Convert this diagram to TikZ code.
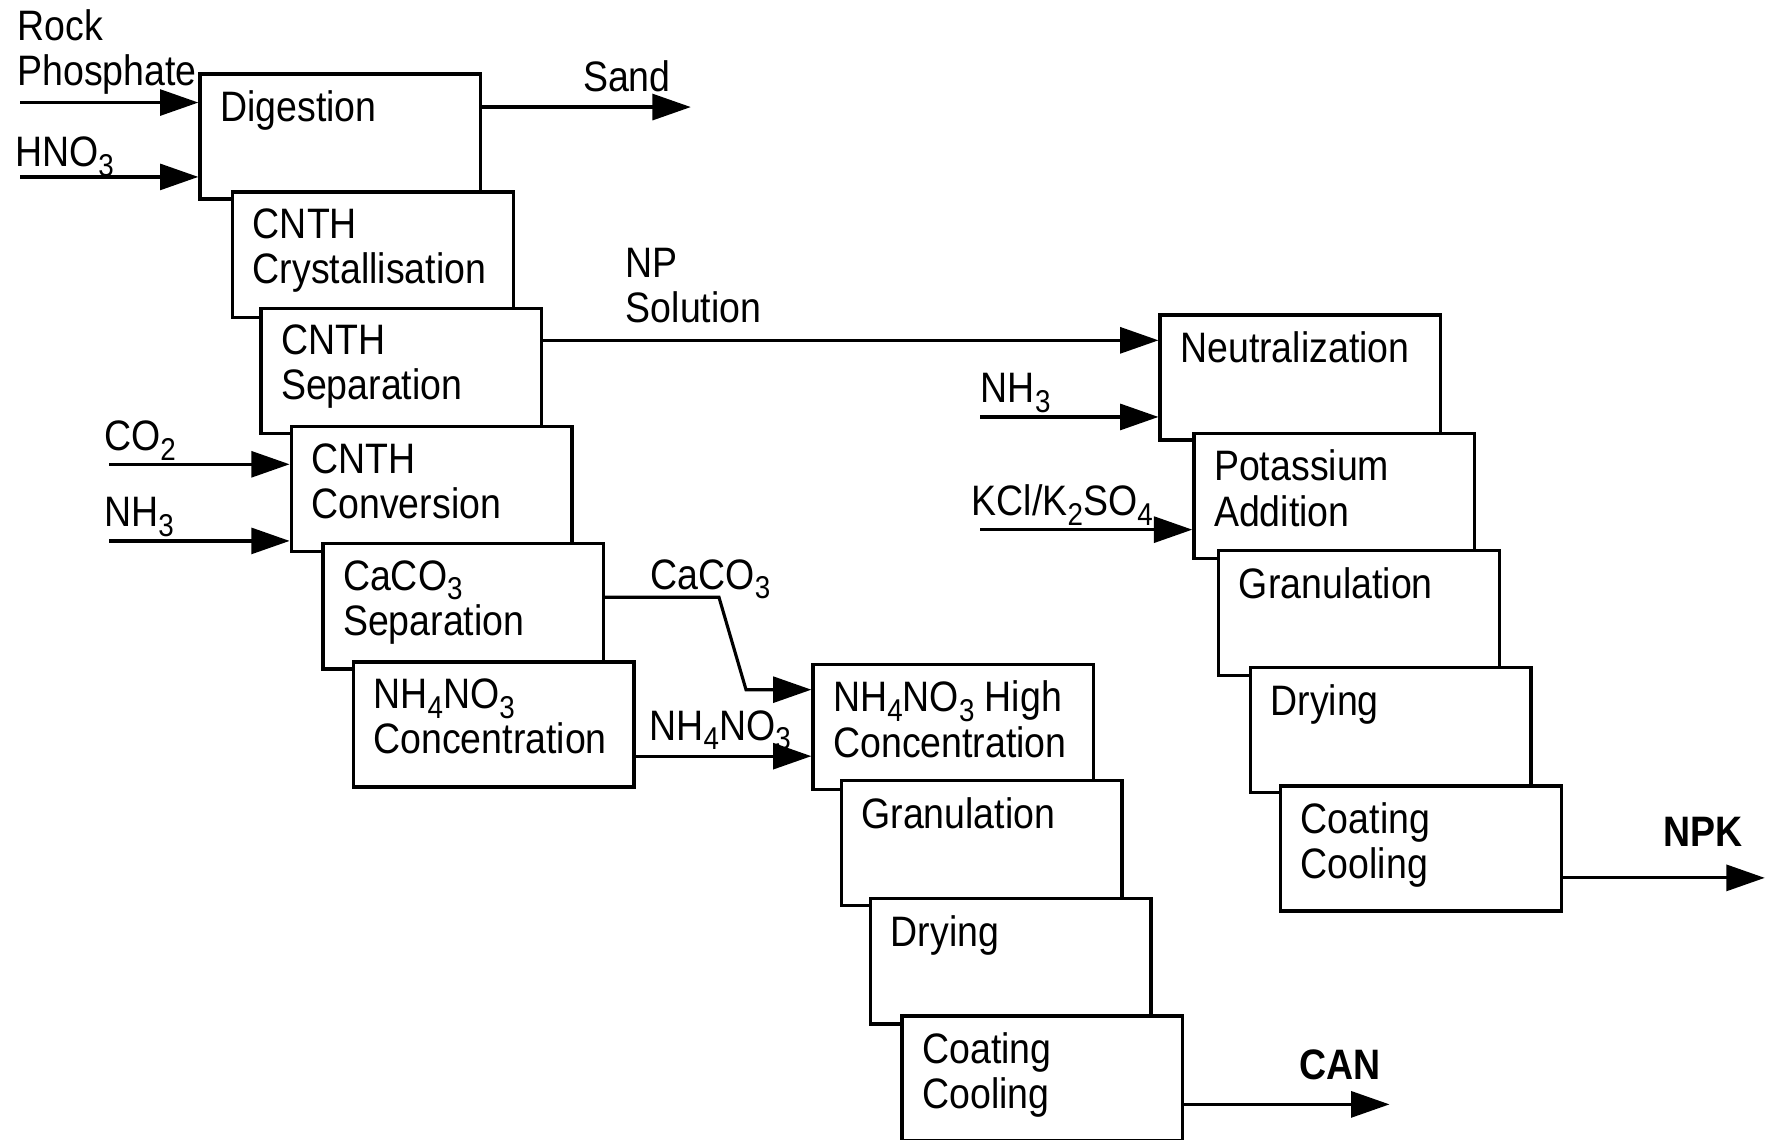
\documentclass[tikz,border=0pt]{standalone}
\usepackage{fontspec}
\setmainfont{Liberation Sans}[FakeStretch=0.88]
\usetikzlibrary{arrows.meta}
\newcommand\chsub[1]{\smash{\raisebox{-4.2pt}{\fontsize{14pt}{14pt}\selectfont #1}}}
\begin{document}
\begin{tikzpicture}[x=0.5pt,y=-0.5pt,
  font=\fontsize{18.9pt}{20pt}\selectfont,
  stage/.style={draw, fill=white, line width=1.5pt, minimum width=124.5pt, minimum height=55.5pt, anchor=north west, inner sep=0pt},
  stagetxt/.style={anchor=north west, inner sep=0pt, align=left, xshift=9.5pt, yshift=-8pt},
  flow/.style={line width=1.4pt, -{Triangle[length=17pt,width=11.5pt]}},
  tag/.style={anchor=north west, inner sep=0pt, align=left}]
\useasboundingbox (0,0) rectangle (1568,1011);
% left chain
\node[stage, label={[stagetxt]north west:Digestion}] (dig) at (176,64) {};
\node[stage, label={[stagetxt]north west:{CNTH\\Crystallisation}}] (cry) at (205,169) {};
\node[stage, label={[stagetxt]north west:{CNTH\\Separation}}] (sep) at (230,272) {};
\node[stage, label={[stagetxt]north west:{CNTH\\Conversion}}] (conv) at (257,377) {};
\node[stage, label={[stagetxt]north west:{CaCO\chsub{3}\\Separation}}] (caco) at (285,481) {};
\node[stage, label={[stagetxt]north west:{NH\chsub{4}NO\chsub{3}\\Concentration}}] (nhc) at (312,586) {};
% CAN chain
\node[stage, label={[stagetxt]north west:{NH\chsub{4}NO\chsub{3} High\\Concentration}}] (hic) at (720,588) {};
\node[stage, label={[stagetxt]north west:Granulation}] (gran) at (745,691) {};
\node[stage, label={[stagetxt]north west:Drying}] (dry) at (771,796) {};
\node[stage, label={[stagetxt]north west:{Coating\\Cooling}}] (coat) at (799,900) {};
% NPK chain
\node[stage, label={[stagetxt]north west:Neutralization}] (neut) at (1028,278) {};
\node[stage, label={[stagetxt]north west:{Potassium\\Addition}}] (pot) at (1058,383) {};
\node[stage, label={[stagetxt]north west:Granulation}] (gran2) at (1080,487) {};
\node[stage, label={[stagetxt]north west:Drying}] (dry2) at (1108,591) {};
\node[stage, label={[stagetxt]north west:{Coating\\Cooling}}] (coat2) at (1135,696) {};
% labels
\node[tag] (lrock) at (15,8) {Rock\\Phosphate};
\node[tag] (lhno) at (13,121) {HNO\chsub{3}};
\node[tag] (lsand) at (517,53) {Sand};
\node[tag] (lnp) at (555,220) {NP\\Solution};
\node[tag] (lco2) at (92,373) {CO\chsub{2}};
\node[tag] (lnh3a) at (92,441) {NH\chsub{3}};
\node[tag] (lcaco) at (577,496) {CaCO\chsub{3}};
\node[tag] (lnhno) at (576,630) {NH\chsub{4}NO\chsub{3}};
\node[tag] (lnh3b) at (870,331) {NH\chsub{3}};
\node[tag] (lkcl) at (862,430) {KCl/K\chsub{2}SO\chsub{4}};
\node[tag, font=\fontsize{18.9pt}{20pt}\selectfont\bfseries] (lcan) at (1153,931) {CAN};
\node[tag, font=\fontsize{18.9pt}{20pt}\selectfont\bfseries] (lnpk) at (1476,725) {NPK};
% coordinates
\coordinate (rockin) at (18,91);
\coordinate (hnoin) at (18,157);
\coordinate (sandout) at (613,95);
\coordinate (co2in) at (97,412);
\coordinate (nh3in) at (97,480);
\coordinate (nh3bin) at (870,370);
\coordinate (kclin) at (870,470);
\coordinate (npy) at (700,302);
\coordinate (cabend1) at (638,530);
\coordinate (cabend2) at (662,612);
\coordinate (nhy) at (640,671);
\coordinate (canout) at (1233,980);
\coordinate (npkout) at (1566,779);
% connectors
\draw[flow] (rockin) -- (rockin -| dig.west);
\draw[flow] (hnoin) -- (hnoin -| dig.west);
\draw[flow] (sandout -| dig.east) -- (sandout);
\draw[flow] (npy -| sep.east) -- (npy -| neut.west);
\draw[flow] (nh3bin) -- (nh3bin -| neut.west);
\draw[flow] (kclin) -- (kclin -| pot.west);
\draw[flow] (co2in) -- (co2in -| conv.west);
\draw[flow] (nh3in) -- (nh3in -| conv.west);
\draw[flow] (cabend1 -| caco.east) -- (cabend1) -- (cabend2) -- (cabend2 -| hic.west);
\draw[flow] (nhy -| nhc.east) -- (nhy -| hic.west);
\draw[flow] (canout -| coat.east) -- (canout);
\draw[flow] (npkout -| coat2.east) -- (npkout);
\end{tikzpicture}
\end{document}
